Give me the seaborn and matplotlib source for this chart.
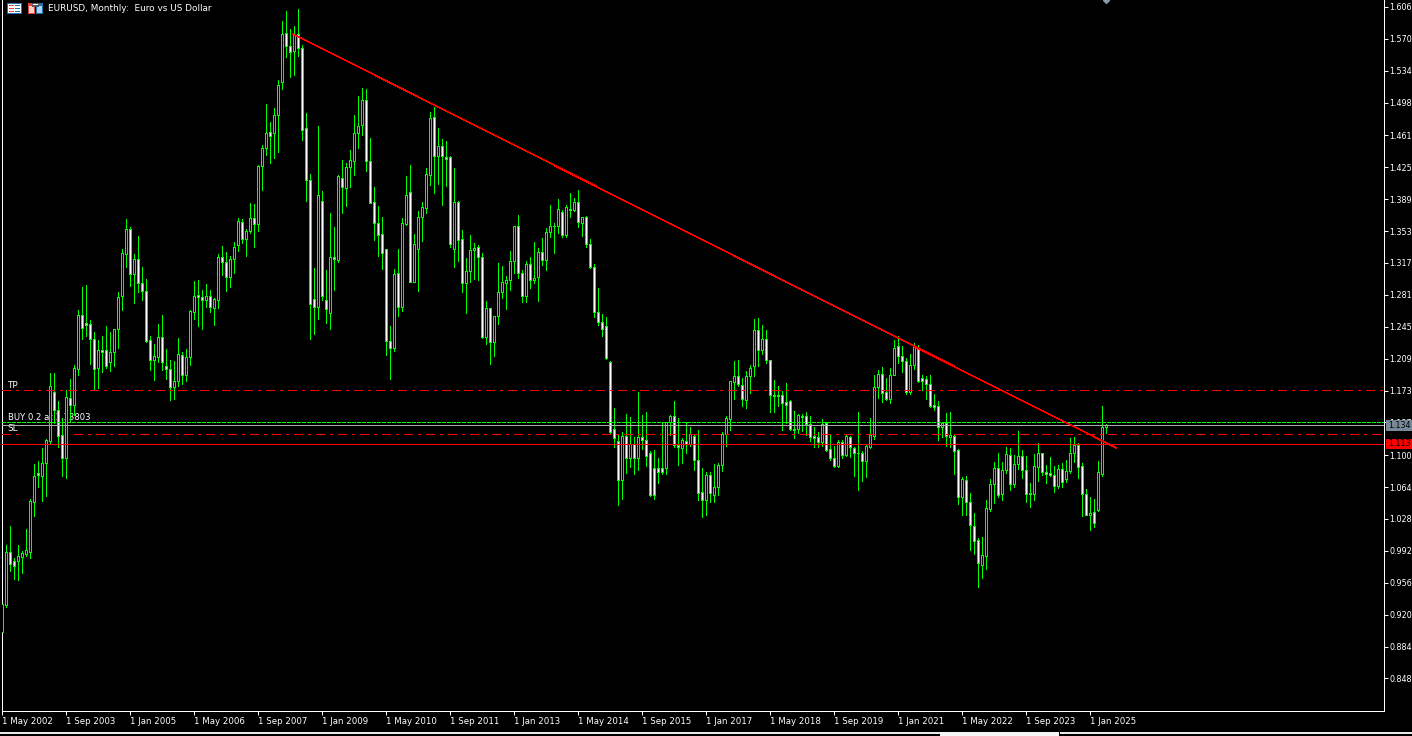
import numpy as np
import pandas as pd
import matplotlib
matplotlib.use('Agg')
import matplotlib.pyplot as plt
from matplotlib.patches import Rectangle
from matplotlib.transforms import IdentityTransform
import seaborn as sns

W, H = 1412, 736

opens = [
    .900, .931, .991, .980, .980, .985, .988, .991, 1.047, 1.080,
    1.077, 1.091, 1.116, 1.171, 1.151, 1.123, 1.097, 1.165, 1.157, 1.197,
    1.258, 1.249, 1.248, 1.231, 1.198, 1.219, 1.219, 1.205, 1.216, 1.242,
    1.280, 1.327, 1.355, 1.304, 1.321, 1.294, 1.285, 1.230, 1.207, 1.211,
    1.233, 1.201, 1.197, 1.177, 1.184, 1.213, 1.191, 1.211, 1.262, 1.281,
    1.279, 1.275, 1.280, 1.266, 1.275, 1.324, 1.318, 1.301, 1.321, 1.337,
    1.363, 1.344, 1.353, 1.368, 1.361, 1.426, 1.447, 1.465, 1.464, 1.484,
    1.521, 1.577, 1.562, 1.556, 1.575, 1.560, 1.469, 1.411, 1.276, 1.267,
    1.387, 1.275, 1.260, 1.324, 1.320, 1.413, 1.402, 1.425, 1.432, 1.464,
    1.473, 1.501, 1.432, 1.386, 1.362, 1.350, 1.333, 1.229, 1.221, 1.306,
    1.267, 1.361, 1.397, 1.296, 1.333, 1.369, 1.379, 1.416, 1.482, 1.438,
    1.449, 1.437, 1.437, 1.333, 1.386, 1.344, 1.294, 1.308, 1.332, 1.335,
    1.324, 1.234, 1.266, 1.228, 1.257, 1.284, 1.294, 1.298, 1.319, 1.359,
    1.306, 1.280, 1.316, 1.298, 1.301, 1.329, 1.320, 1.352, 1.359, 1.359,
    1.375, 1.349, 1.378, 1.377, 1.386, 1.362, 1.369, 1.338, 1.312, 1.262,
    1.250, 1.246, 1.205, 1.130, 1.116, 1.072, 1.122, 1.097, 1.113, 1.097,
    1.120, 1.117, 1.102, 1.085, 1.085, 1.086, 1.085, 1.137, 1.144, 1.111,
    1.108, 1.116, 1.113, 1.122, 1.095, 1.058, 1.049, 1.078, 1.055, 1.064,
    1.089, 1.124, 1.141, 1.183, 1.189, 1.179, 1.162, 1.189, 1.201, 1.241,
    1.219, 1.231, 1.207, 1.168, 1.168, 1.168, 1.160, 1.161, 1.130, 1.130,
    1.143, 1.144, 1.135, 1.122, 1.120, 1.115, 1.136, 1.107, 1.097, 1.088,
    1.115, 1.100, 1.120, 1.108, 1.103, 1.102, 1.093, 1.109, 1.122, 1.177,
    1.192, 1.171, 1.163, 1.191, 1.223, 1.212, 1.206, 1.171, 1.202, 1.221,
    1.187, 1.186, 1.180, 1.157, 1.155, 1.132, 1.136, 1.120, 1.122, 1.106,
    1.053, 1.072, 1.047, 1.020, 1.004, .976, .986, 1.039, 1.068, 1.085,
    1.056, 1.083, 1.100, 1.067, 1.090, 1.099, 1.083, 1.056, 1.056, 1.087,
    1.103, 1.081, 1.080, 1.078, 1.065, 1.084, 1.073, 1.082, 1.102, 1.112,
    1.088, 1.056, 1.033, 1.036, 1.038, 1.079, 1.132]

highs = [
    .933, .999, 1.020, .984, .999, .992, 1.017, 1.050, 1.090, 1.094,
    1.108, 1.118, 1.193, 1.193, 1.161, 1.142, 1.174, 1.186, 1.202, 1.264,
    1.290, 1.292, 1.253, 1.239, 1.230, 1.235, 1.246, 1.239, 1.243, 1.284,
    1.333, 1.367, 1.358, 1.327, 1.347, 1.312, 1.299, 1.235, 1.225, 1.248,
    1.258, 1.220, 1.207, 1.206, 1.232, 1.216, 1.220, 1.264, 1.297, 1.298,
    1.286, 1.293, 1.287, 1.277, 1.327, 1.336, 1.329, 1.325, 1.341, 1.368,
    1.367, 1.355, 1.385, 1.384, 1.428, 1.450, 1.496, 1.476, 1.492, 1.524,
    1.590, 1.601, 1.581, 1.585, 1.604, 1.563, 1.486, 1.417, 1.311, 1.472,
    1.398, 1.309, 1.373, 1.358, 1.416, 1.433, 1.430, 1.444, 1.484, 1.505,
    1.514, 1.513, 1.458, 1.403, 1.381, 1.369, 1.333, 1.246, 1.310, 1.333,
    1.368, 1.415, 1.428, 1.350, 1.376, 1.386, 1.424, 1.487, 1.493, 1.469,
    1.457, 1.455, 1.438, 1.424, 1.387, 1.354, 1.323, 1.349, 1.340, 1.337,
    1.328, 1.274, 1.266, 1.257, 1.317, 1.314, 1.302, 1.330, 1.359, 1.371,
    1.309, 1.319, 1.324, 1.341, 1.334, 1.345, 1.356, 1.382, 1.362, 1.389,
    1.377, 1.382, 1.396, 1.390, 1.399, 1.369, 1.370, 1.344, 1.316, 1.289,
    1.259, 1.256, 1.206, 1.153, 1.124, 1.126, 1.146, 1.143, 1.120, 1.171,
    1.145, 1.149, 1.105, 1.106, 1.097, 1.137, 1.137, 1.145, 1.161, 1.142,
    1.119, 1.137, 1.132, 1.124, 1.129, 1.086, 1.081, 1.081, 1.090, 1.091,
    1.126, 1.144, 1.184, 1.206, 1.208, 1.187, 1.195, 1.202, 1.254, 1.255,
    1.247, 1.241, 1.207, 1.185, 1.178, 1.172, 1.181, 1.162, 1.150, 1.147,
    1.146, 1.149, 1.144, 1.132, 1.126, 1.141, 1.137, 1.124, 1.110, 1.117,
    1.117, 1.124, 1.122, 1.109, 1.149, 1.105, 1.112, 1.142, 1.190, 1.196,
    1.200, 1.187, 1.199, 1.230, 1.235, 1.223, 1.210, 1.214, 1.227, 1.224,
    1.191, 1.189, 1.191, 1.169, 1.161, 1.136, 1.148, 1.149, 1.123, 1.107,
    1.075, 1.076, 1.057, 1.035, 1.007, 1.008, 1.049, 1.073, 1.092, 1.102,
    1.092, 1.109, 1.108, 1.100, 1.127, 1.106, 1.099, 1.069, 1.101, 1.114,
    1.103, 1.089, 1.098, 1.088, 1.089, 1.091, 1.095, 1.119, 1.120, 1.114,
    1.091, 1.062, 1.053, 1.051, 1.094, 1.156, 1.135]

lows = [
    .899, .929, .969, .960, .959, .967, .986, .984, 1.031, 1.064,
    1.048, 1.054, 1.114, 1.136, 1.109, 1.077, 1.074, 1.137, 1.145, 1.191,
    1.231, 1.235, 1.203, 1.175, 1.176, 1.194, 1.198, 1.195, 1.201, 1.221,
    1.264, 1.312, 1.291, 1.272, 1.284, 1.275, 1.228, 1.196, 1.185, 1.205,
    1.196, 1.186, 1.162, 1.164, 1.178, 1.180, 1.184, 1.202, 1.254, 1.246,
    1.243, 1.267, 1.262, 1.247, 1.266, 1.303, 1.285, 1.290, 1.306, 1.330,
    1.340, 1.325, 1.351, 1.335, 1.353, 1.399, 1.439, 1.430, 1.435, 1.442,
    1.513, 1.549, 1.527, 1.529, 1.551, 1.456, 1.387, 1.231, 1.237, 1.254,
    1.275, 1.249, 1.243, 1.286, 1.318, 1.373, 1.381, 1.403, 1.416, 1.447,
    1.461, 1.421, 1.385, 1.343, 1.325, 1.310, 1.213, 1.186, 1.218, 1.257,
    1.263, 1.360, 1.295, 1.295, 1.285, 1.342, 1.373, 1.405, 1.396, 1.406,
    1.382, 1.404, 1.335, 1.313, 1.319, 1.284, 1.260, 1.295, 1.299, 1.298,
    1.232, 1.226, 1.203, 1.212, 1.248, 1.278, 1.265, 1.286, 1.306, 1.300,
    1.273, 1.273, 1.289, 1.294, 1.274, 1.315, 1.309, 1.346, 1.328, 1.351,
    1.346, 1.346, 1.369, 1.376, 1.358, 1.348, 1.335, 1.311, 1.256, 1.247,
    1.235, 1.209, 1.124, 1.109, 1.044, 1.050, 1.080, 1.087, 1.079, 1.083,
    1.107, 1.088, 1.054, 1.050, 1.069, 1.079, 1.079, 1.123, 1.109, 1.089,
    1.091, 1.102, 1.110, 1.083, 1.049, 1.030, 1.032, 1.047, 1.047, 1.055,
    1.082, 1.110, 1.129, 1.164, 1.178, 1.155, 1.153, 1.170, 1.189, 1.201,
    1.214, 1.204, 1.149, 1.149, 1.155, 1.128, 1.136, 1.128, 1.119, 1.125,
    1.127, 1.123, 1.116, 1.109, 1.109, 1.110, 1.105, 1.095, 1.087, 1.087,
    1.097, 1.099, 1.098, 1.076, 1.061, 1.071, 1.075, 1.108, 1.118, 1.165,
    1.160, 1.162, 1.159, 1.190, 1.204, 1.194, 1.169, 1.169, 1.197, 1.183,
    1.174, 1.164, 1.154, 1.151, 1.117, 1.121, 1.110, 1.109, 1.079, 1.045,
    1.033, 1.033, .993, .988, .951, .961, .971, 1.037, 1.046, 1.053,
    1.049, 1.080, 1.061, 1.064, 1.084, 1.074, 1.047, 1.042, 1.049, 1.071,
    1.078, 1.069, 1.076, 1.058, 1.063, 1.064, 1.070, 1.080, 1.092, 1.074,
    1.031, 1.032, 1.015, 1.019, 1.037, 1.076, 1.125]

closes = [
    .932, .991, .977, .975, .986, .990, .993, 1.048, 1.077, 1.078,
    1.091, 1.117, 1.178, 1.151, 1.122, 1.097, 1.166, 1.157, 1.199, 1.258,
    1.244, 1.247, 1.231, 1.197, 1.219, 1.216, 1.201, 1.217, 1.242, 1.279,
    1.328, 1.355, 1.304, 1.321, 1.294, 1.285, 1.229, 1.208, 1.212, 1.233,
    1.205, 1.197, 1.177, 1.184, 1.214, 1.191, 1.211, 1.263, 1.280, 1.279,
    1.275, 1.280, 1.267, 1.276, 1.324, 1.318, 1.301, 1.321, 1.335, 1.364,
    1.344, 1.353, 1.368, 1.361, 1.426, 1.447, 1.464, 1.460, 1.484, 1.518,
    1.575, 1.562, 1.555, 1.575, 1.560, 1.467, 1.411, 1.271, 1.267, 1.394,
    1.280, 1.265, 1.324, 1.321, 1.415, 1.403, 1.425, 1.433, 1.464, 1.472,
    1.501, 1.432, 1.385, 1.362, 1.349, 1.328, 1.229, 1.221, 1.304, 1.267,
    1.362, 1.394, 1.296, 1.338, 1.369, 1.380, 1.417, 1.481, 1.438, 1.449,
    1.438, 1.434, 1.338, 1.386, 1.343, 1.294, 1.308, 1.332, 1.334, 1.324,
    1.234, 1.266, 1.228, 1.257, 1.284, 1.295, 1.298, 1.319, 1.359, 1.306,
    1.280, 1.316, 1.298, 1.300, 1.329, 1.320, 1.352, 1.359, 1.359, 1.378,
    1.349, 1.380, 1.377, 1.386, 1.363, 1.369, 1.338, 1.312, 1.262, 1.250,
    1.243, 1.210, 1.126, 1.119, 1.072, 1.122, 1.097, 1.113, 1.097, 1.120,
    1.117, 1.099, 1.055, 1.055, 1.081, 1.081, 1.137, 1.144, 1.111, 1.109,
    1.117, 1.113, 1.124, 1.095, 1.057, 1.049, 1.078, 1.057, 1.064, 1.089,
    1.124, 1.142, 1.184, 1.189, 1.180, 1.163, 1.189, 1.199, 1.241, 1.219,
    1.231, 1.207, 1.168, 1.167, 1.167, 1.159, 1.157, 1.130, 1.129, 1.145,
    1.144, 1.135, 1.120, 1.119, 1.115, 1.135, 1.106, 1.097, 1.088, 1.115,
    1.100, 1.122, 1.109, 1.102, 1.102, 1.093, 1.110, 1.123, 1.177, 1.192,
    1.170, 1.163, 1.191, 1.221, 1.212, 1.206, 1.171, 1.202, 1.223, 1.184,
    1.184, 1.180, 1.155, 1.154, 1.132, 1.136, 1.122, 1.123, 1.105, 1.053,
    1.073, 1.047, 1.021, 1.003, .978, .987, 1.040, 1.068, 1.085, 1.055,
    1.083, 1.101, 1.067, 1.090, 1.099, 1.083, 1.056, 1.057, 1.088, 1.102,
    1.081, 1.079, 1.078, 1.065, 1.084, 1.070, 1.082, 1.103, 1.112, 1.087,
    1.056, 1.033, 1.035, 1.023, 1.081, 1.132, 1.134]

price_ticks = ['1.606', '1.570', '1.534', '1.498', '1.461', '1.425', '1.389', '1.353',
               '1.317', '1.281', '1.245', '1.209', '1.173', '1.137', '1.100', '1.064',
               '1.028', '0.992', '0.956', '0.920', '0.884', '0.848']
date_ticks = ['1 May 2002', '1 Sep 2003', '1 Jan 2005', '1 May 2006', '1 Sep 2007',
              '1 Jan 2009', '1 May 2010', '1 Sep 2011', '1 Jan 2013', '1 May 2014',
              '1 Sep 2015', '1 Jan 2017', '1 May 2018', '1 Sep 2019', '1 Jan 2021',
              '1 May 2022', '1 Sep 2023', '1 Jan 2025']
date_tick_months = list(range(0, 273, 16))

trend_months = [72.9, 278.8]
trend_prices = [1.5755, 1.108]
tp_level = 1.1739
buy_level = 1.1372
bid_level = 1.1337
sl_level = 1.1236
ask_level = 1.1123

FS = 6.4
FS_DATE = 6.2
FS_PRICE = 5.8

sns.set_theme(style='dark', rc={
    'axes.facecolor': 'black', 'figure.facecolor': 'black', 'savefig.facecolor': 'black',
    'axes.edgecolor': 'white', 'text.color': 'white', 'xtick.color': 'white', 'ytick.color': 'white',
    'lines.scale_dashes': False, 'lines.antialiased': False, 'text.antialiased': True,
    'patch.antialiased': False, 'font.size': FS})
plt.rcParams['font.family'] = ['DejaVu Sans']

PX = 0.72  # one pixel in points at dpi 100
GREEN = '#00ff00'
RED = '#ff0000'

df = pd.DataFrame({'month': range(len(opens)), 'open': opens, 'high': highs, 'low': lows, 'close': closes})
wicks = df.melt(id_vars='month', value_vars=['high', 'low'], value_name='price')

fig = plt.figure(figsize=(W / 100, H / 100), dpi=100)
ax = fig.add_axes([1.5 / W, 1 - 711 / H, 1382.5 / W, 711 / H])

# candles: wick lines first, hollow body on top (white body = down month)
sns.lineplot(data=wicks, x='month', y='price', units='month', estimator=None, sort=False,
             color=GREEN, linewidth=PX, antialiased=False, legend=False, ax=ax, zorder=2)
body_low = df[['open', 'close']].min(axis=1)
body_high = df[['open', 'close']].max(axis=1)
body_colors = np.where(df['close'] >= df['open'], 'black', 'white')
ax.bar(df['month'], body_high - body_low, bottom=body_low, width=0.5, color=body_colors,
       edgecolor=GREEN, linewidth=PX, zorder=3)

dash_dot = (0, (8.6 * PX, 5.8 * PX, 2.9 * PX, 5.8 * PX))
x_end = 345.6
ax.plot([0, x_end], [tp_level, tp_level], color=RED, linewidth=PX, linestyle=dash_dot, zorder=4, snap=True)
ax.plot([0, 4.1], [sl_level, sl_level], color=RED, linewidth=PX, linestyle=dash_dot, zorder=4, snap=True)
ax.plot([18, x_end], [sl_level, sl_level], color=RED, linewidth=PX, linestyle=dash_dot, zorder=4, snap=True)
ax.plot([0, x_end], [buy_level, buy_level], color=GREEN, linewidth=PX, linestyle=(0, (3 * PX, 2 * PX)), zorder=4, snap=True)
ax.plot([0, x_end], [bid_level, bid_level], color='#a9a9b0', linewidth=PX, zorder=4, snap=True)
ax.plot([0, x_end], [ask_level, ask_level], color=RED, linewidth=PX, zorder=4, snap=True)
ax.plot(trend_months, trend_prices, color=RED, linewidth=0.4, zorder=5)
ax.plot([276], [1.6139], marker='D', markersize=3, color='#8a97a8', linestyle='none', zorder=5)

ax.text(1.5, tp_level + 0.0002, 'TP', fontsize=FS, va='bottom', zorder=1)
ax.text(1.5, buy_level + 0.0005, 'BUY 0.2 at 1.13803', fontsize=6.1, va='bottom', zorder=1)
ax.text(1.5, sl_level + 0.0015, 'SL', fontsize=FS, va='bottom', zorder=1)

ax.set_xlim(0, 345.625)
ax.set_ylim(0.8112, 1.6139)
ax.set_xlabel('')
ax.set_ylabel('')
ax.yaxis.tick_right()
ax.set_yticks([float(t) for t in price_ticks], labels=price_ticks)
ax.set_xticks(date_tick_months, labels=date_ticks, ha='left')
ax.tick_params(axis='x', length=2.9, width=PX, labelsize=FS_DATE, bottom=True, pad=1.5)
ax.tick_params(axis='y', length=2.9, width=PX, labelsize=FS_PRICE, right=True, left=False, pad=1)
ax.grid(False)
for side in ['left', 'right', 'bottom']:
    ax.spines[side].set_visible(True)
    ax.spines[side].set_linewidth(PX)
    ax.spines[side].set_color('white')
ax.spines['top'].set_visible(False)


def px_rect(x, y, w, h, color, z=6):
    # rectangle given in image pixels, y from the top
    fig.add_artist(Rectangle((x, H - y - h), w, h, facecolor=color, edgecolor='none',
                             transform=IdentityTransform(), zorder=z))


# price tags on the axis
px_rect(1386, 420, 26, 11, '#778899')
px_rect(1386, 439, 26, 10, RED)
fig.text(1388.5 / W, 1 - 425.5 / H, '1.134', color='black', fontsize=FS_PRICE, va='center', zorder=7)
fig.text(1388.5 / W, 1 - 444 / H, '1.113', color='black', fontsize=FS_PRICE, va='center', zorder=7)

# window icons and title
px_rect(7, 3, 15, 11, '#1f6fb2')
px_rect(8, 4, 13, 9, 'white')
for row in [5, 8, 11]:
    px_rect(9, row, 5, 1, '#e0483a')
    px_rect(15, row, 5, 1, '#1f6fb2')
px_rect(28, 3, 7, 11, '#e0483a')
px_rect(29, 6, 5, 7, '#ffd0c8')
px_rect(36, 3, 7, 11, '#1f6fb2')
px_rect(37, 6, 5, 7, '#a8d4f5')
px_rect(32, 3, 7, 4, '#555555')
px_rect(33, 4, 5, 1, 'white')
fig.text(48 / W, 1 - 8.5 / H, 'EURUSD, Monthly:  Euro vs US Dollar', fontsize=FS, va='center')

# window frame under the chart
px_rect(0, 732, 940, 1.5, '#e8e8e8')
px_rect(940, 732, 119, 4, '#f5f5f5')
px_rect(1060, 732, 352, 1.5, '#e8e8e8')

fig.savefig('out.png', dpi=100)
